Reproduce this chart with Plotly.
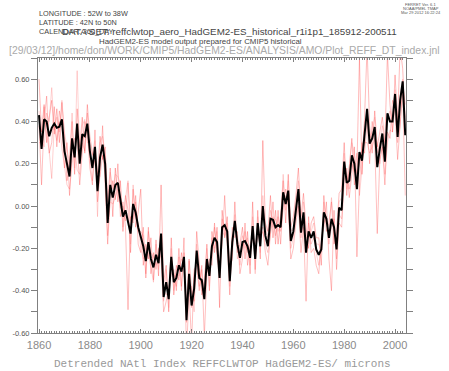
import plotly.graph_objects as go

years = list(range(1860, 2005))

ens_mean = [
    0.43, 0.27, 0.41, 0.40, 0.33, 0.37, 0.39, 0.37, 0.375, 0.41,
    0.26, 0.20, 0.14, 0.32, 0.23, 0.39, 0.20, 0.34, 0.33, 0.39,
    0.26, 0.18, 0.28, 0.07, 0.23, 0.29, 0.20, -0.08, 0.10, 0.04,
    0.10, 0.11, 0.04, -0.05, -0.02, -0.07, -0.13, 0.01, -0.03, -0.10,
    -0.15, -0.19, -0.26, -0.17, -0.25, -0.29, -0.23, -0.27, -0.13, -0.43,
    -0.36, -0.44, -0.24, -0.36, -0.34, -0.28, -0.31, -0.24, -0.54, -0.32,
    -0.47, -0.39, -0.21, -0.34, -0.35, -0.44, -0.25, -0.33, -0.19, -0.15,
    -0.17, -0.34, -0.10, -0.09, -0.12, -0.355, -0.17, -0.07, -0.18, -0.245,
    -0.17, -0.165, -0.19, -0.245, -0.094, -0.25, -0.08, -0.19, 0.0, -0.14,
    -0.19, -0.06, -0.065, -0.10, -0.09, -0.10, 0.065, 0.01, 0.073, -0.165,
    -0.12, -0.014, 0.08, -0.126, -0.03, -0.22, -0.12, -0.15, -0.12, -0.205,
    -0.23, -0.205, -0.03, -0.06, -0.15, -0.06, -0.10, -0.205, -0.007, -0.02,
    0.21, 0.11, 0.12, 0.24, 0.20, 0.08, 0.255, 0.215, 0.343, 0.46,
    0.295, 0.32, 0.374, 0.184, 0.27, 0.343, 0.21, 0.438, 0.40, 0.40,
    0.53, 0.327, 0.50, 0.59, 0.335,
]

member_r1 = [
    0.60, 0.35, 0.48, 0.30, 0.42, 0.50, 0.34, 0.46, 0.30, 0.49,
    0.33, 0.12, 0.22, 0.40, 0.15, 0.46, 0.28, 0.42, 0.25, 0.48,
    0.33, 0.25, 0.20, 0.15, 0.33, 0.22, 0.28, 0.02, 0.18, -0.05,
    0.18, 0.02, 0.12, -0.12, 0.05, -0.02, -0.22, 0.08, -0.10, -0.03,
    0.08, -0.28, -0.18, -0.25, -0.15, -0.35, -0.16, -0.33, 0.10, -0.36,
    -0.28, -0.50, -0.15, -0.42, -0.28, -0.35, -0.22, -0.30, -0.48, -0.25,
    -0.40, -0.45, -0.12, -0.28, -0.42, -0.38, -0.18, -0.40, -0.12, -0.22,
    -0.10, -0.48, -0.02, -0.15, -0.05, -0.30, -0.25, 0.02, -0.22, -0.18,
    -0.10, -0.25, -0.12, -0.32, 0.02, -0.30, -0.02, -0.25, 0.31, -0.08,
    -0.12, 0.05, -0.15, -0.02, -0.18, -0.05, 0.12, -0.08, 0.15, -0.10,
    -0.05, 0.05, 0.18, -0.05, 0.06, -0.10, -0.20, -0.08, -0.05, -0.15,
    -0.15, -0.28, 0.05, -0.12, -0.08, 0.02, -0.18, -0.12, 0.06, 0.08,
    0.30, 0.05, 0.20, 0.32, 0.10, 0.18, 0.70, 0.15, 0.42, 0.75,
    0.38, 0.25, 0.45, 0.28, 0.35, 0.42, 0.30, 0.72, 0.48, 0.35,
    0.62, 0.40, 0.75, 0.65, 0.38,
]

member_r2 = [
    0.38, 0.10, 0.40, 0.52, 0.25, 0.30, 0.47, 0.28, 0.45, 0.38,
    0.18, 0.30, 0.05, 0.25, 0.32, 0.30, 0.10, 0.27, 0.40, 0.35,
    0.18, 0.10, 0.36, 0.02, 0.15, 0.38, 0.12, -0.18, 0.05, 0.12,
    0.03, 0.20, -0.05, 0.02, -0.10, -0.49, -0.05, -0.08, 0.05, -0.18,
    -0.22, -0.10, -0.34, -0.10, -0.32, -0.22, -0.30, -0.20, -0.25, -0.50,
    -0.45, -0.38, -0.32, -0.30, -0.40, -0.20, -0.38, -0.15, -0.70, -0.40,
    -0.65, -0.30, -0.28, -0.40, -0.28, -0.62, -0.32, -0.25, -0.28, -0.08,
    -0.25, -0.30, -0.18, 0.05, -0.20, -0.42, -0.10, -0.15, -0.12, -0.32,
    -0.25, -0.08, -0.28, -0.18, -0.15, -0.20, -0.15, -0.12, -0.10, -0.22,
    -0.28, -0.12, 0.02, -0.18, -0.02, -0.18, 0.02, 0.08, 0.00, -0.25,
    -0.20, -0.08, 0.00, -0.22, -0.10, -0.45, -0.05, -0.22, -0.20, -0.28,
    -0.32, -0.15, -0.10, 0.02, -0.25, -0.40, -0.02, -0.30, -0.08, -0.10,
    0.12, 0.18, 0.04, 0.15, 0.28, -0.24, 0.10, 0.30, 0.25, 0.40,
    0.20, 0.40, 0.30, -0.13, 0.22, 0.28, 0.10, 0.35, 0.32, 0.50,
    0.45, 0.22, 0.40, 0.55, 0.05,
]

member_r3 = [
    0.45, 0.32, 0.28, 0.44, 0.40, 0.56, 0.36, 0.42, 0.35, 0.50,
    0.35, 0.27, 0.20, 0.44, 0.18, 0.64, 0.25, 0.38, 0.41, 0.30,
    0.30, 0.24, 0.31, -0.05, 0.30, 0.33, 0.25, -0.02, 0.16, 0.08,
    0.15, 0.14, 0.10, -0.10, 0.04, 0.12, -0.18, 0.10, -0.06, -0.08,
    -0.20, -0.25, -0.20, -0.22, -0.30, -0.36, -0.18, -0.30, -0.18, -0.45,
    -0.30, -0.48, -0.20, -0.40, -0.30, -0.33, -0.25, -0.28, -0.45, -0.38,
    -0.38, -0.50, -0.18, -0.30, -0.40, -0.35, -0.20, -0.38, -0.15, -0.20,
    -0.12, -0.28, -0.12, -0.14, -0.08, -0.38, -0.20, -0.04, -0.25, -0.20,
    -0.14, -0.20, -0.15, -0.28, -0.05, -0.32, -0.05, -0.22, 0.05, -0.10,
    -0.15, -0.02, -0.10, -0.06, -0.12, -0.08, 0.15, -0.02, 0.12, -0.12,
    -0.10, 0.02, 0.12, -0.10, 0.02, -0.15, -0.15, -0.12, -0.08, -0.18,
    -0.18, -0.22, 0.02, -0.08, -0.12, 0.04, -0.12, -0.18, 0.02, 0.04,
    0.25, 0.08, 0.18, 0.30, 0.25, 0.15, 0.20, 0.25, 0.40, 0.42,
    0.32, 0.35, 0.42, 0.25, 0.30, 0.38, 0.28, 0.40, 0.45, 0.40,
    0.55, 0.38, 0.52, 0.60, 0.42,
]

member_r4 = [
    0.30, 0.30, 0.47, 0.34, 0.26, 0.13, 0.38, 0.31, 0.40, 0.27,
    0.19, 0.10, 0.08, 0.20, 0.28, 0.17, 0.15, 0.30, 0.26, 0.44,
    0.22, 0.12, 0.25, 0.16, 0.14, 0.24, 0.15, -0.14, 0.02, 0.01,
    0.04, 0.08, -0.01, 0.00, -0.07, 0.11, -0.07, -0.06, 0.02, -0.12,
    -0.12, -0.14, -0.32, -0.12, -0.22, -0.24, -0.28, -0.24, -0.20, -0.40,
    -0.42, -0.40, -0.28, -0.32, -0.38, -0.24, -0.40, -0.22, -0.55, -0.26,
    -0.48, -0.32, -0.26, -0.38, -0.30, -0.42, -0.30, -0.28, -0.22, -0.10,
    -0.20, -0.32, -0.06, -0.12, -0.16, -0.30, -0.14, -0.10, -0.15, -0.28,
    -0.20, -0.12, -0.22, -0.20, -0.16, -0.18, -0.12, -0.16, -0.12, -0.18,
    -0.22, -0.14, -0.05, -0.14, -0.05, -0.12, -0.02, 0.05, 0.02, -0.20,
    -0.15, -0.05, 0.02, -0.15, -0.08, -0.20, -0.08, -0.18, -0.15, -0.22,
    -0.28, -0.18, -0.08, -0.05, -0.18, -0.10, -0.06, -0.25, -0.04, -0.06,
    0.18, 0.15, 0.08, 0.20, 0.16, 0.25, 0.05, 0.18, 0.30, 0.30,
    0.25, 0.28, 0.32, 0.30, 0.20, 0.30, 0.15, 0.30, 0.36, 0.35,
    0.48, 0.30, 0.38, 0.58, 0.48,
]

y_tickvals = [-0.6, -0.4, -0.2, 0.0, 0.2, 0.4, 0.6]
y_ticktext = ["-0.60", "-0.40", "-0.20", "0.00", "0.20", "0.40", "0.60"]
x_tickvals = [1860, 1880, 1900, 1920, 1940, 1960, 1980, 2000]

W, H = 449, 371
L, R, T, B = 38, 43, 58, 38
PW, PH = W - L - R, H - T - B


def px(x):
    return (x - L) / PW


def py(y):
    return (H - B - y) / PH


fig = go.Figure()
red_styles = [
    ("rgba(255,40,40,0.45)", 0.7),
    ("rgba(255,90,90,0.55)", 0.7),
    ("rgba(255,130,130,0.5)", 0.7),
    ("rgba(255,60,60,0.35)", 0.7),
]
for member, (col, w) in zip([member_r1, member_r2, member_r3, member_r4], red_styles):
    fig.add_trace(go.Scatter(x=years, y=member, mode="lines",
                             line=dict(color=col, width=w), showlegend=False,
                             hoverinfo="skip"))
fig.add_trace(go.Scatter(x=years, y=ens_mean, mode="lines",
                         line=dict(color="black", width=2), showlegend=False))

axis_col = "#808080"
fig.update_xaxes(
    range=[1859.6, 2004.3], showgrid=False, zeroline=False,
    showline=True, linecolor=axis_col, linewidth=1, mirror="ticks",
    tickvals=x_tickvals, ticks="inside", ticklen=4, tickcolor=axis_col,
    minor=dict(dtick=1, tick0=1860, ticks="inside", ticklen=2, tickcolor=axis_col),
    tickfont=dict(family="Liberation Sans, Arial, sans-serif", size=11, color="#8a8a8a"),
    ticklabelstandoff=2,
)
fig.update_yaxes(
    range=[-0.6, 0.7], showgrid=False, zeroline=False,
    showline=True, linecolor=axis_col, linewidth=1, mirror="ticks",
    tickvals=y_tickvals, ticktext=y_ticktext, ticks="outside", ticklen=6,
    tickcolor=axis_col,
    minor=dict(dtick=0.1, tick0=-0.6, ticks="outside", ticklen=6, tickcolor=axis_col),
    tickfont=dict(family="Liberation Sans, Arial, sans-serif", size=7.5, color="#555555"),
)

hdr_font = dict(family="Liberation Sans, Arial, sans-serif", size=7.3, color="#444444")
ann = []


def add_text(text, x, y, font, xanchor="left"):
    ann.append(dict(text=text, x=px(x), y=py(y), xref="paper", yref="paper",
                    xanchor=xanchor, yanchor="middle", showarrow=False, font=font,
                    borderpad=0))


add_text("LONGITUDE : 52W to 38W", 38, 13, hdr_font)
add_text("LATITUDE : 42N to 50N", 38, 22, hdr_font)
add_text("CALENDAR: 360_DAY", 38, 31, hdr_font)
add_text("DATA SET: reffclwtop_aero_HadGEM2-ES_historical_r1i1p1_185912-200511", 61, 31,
         dict(family="Liberation Sans, Arial, sans-serif", size=9.8, color="#444444"))
add_text("HadGEM2-ES model output prepared for CMIP5 historical", 200, 41,
         dict(family="Liberation Sans, Arial, sans-serif", size=7.9, color="#444444"),
         xanchor="center")
add_text("[29/03/12]/home/don/WORK/CMIP5/HadGEM2-ES/ANALYSIS/AMO/Plot_REFF_DT_index.jnl",
         224, 50, dict(family="Liberation Sans, Arial, sans-serif", size=10.4, color="#aaaaaa"),
         xanchor="center")
tiny = dict(family="Liberation Sans, Arial, sans-serif", size=4, color="#555555")
add_text("FERRET Ver. 6.1", 421, 4, tiny, xanchor="center")
add_text("NOAA/PMEL TMAP", 421, 8.3, tiny, xanchor="center")
add_text("Mar 29 2012 16:22:24", 421, 12.6, tiny, xanchor="center")
add_text("Detrended NAtl Index REFFCLWTOP HadGEM2-ES/ microns", 222, 364,
         dict(family="Liberation Mono, DejaVu Sans Mono, monospace", size=11, color="#999999"),
         xanchor="center")

fig.update_layout(
    width=W, height=H, margin=dict(l=L, r=R, t=T, b=B, pad=0),
    plot_bgcolor="white", paper_bgcolor="white", annotations=ann,
)

fig.write_html(
    "out.html",
    config={"displayModeBar": False},
    post_script="document.body.style.margin='0';document.body.style.padding='0';"
                "document.documentElement.style.overflow='hidden';",
)
